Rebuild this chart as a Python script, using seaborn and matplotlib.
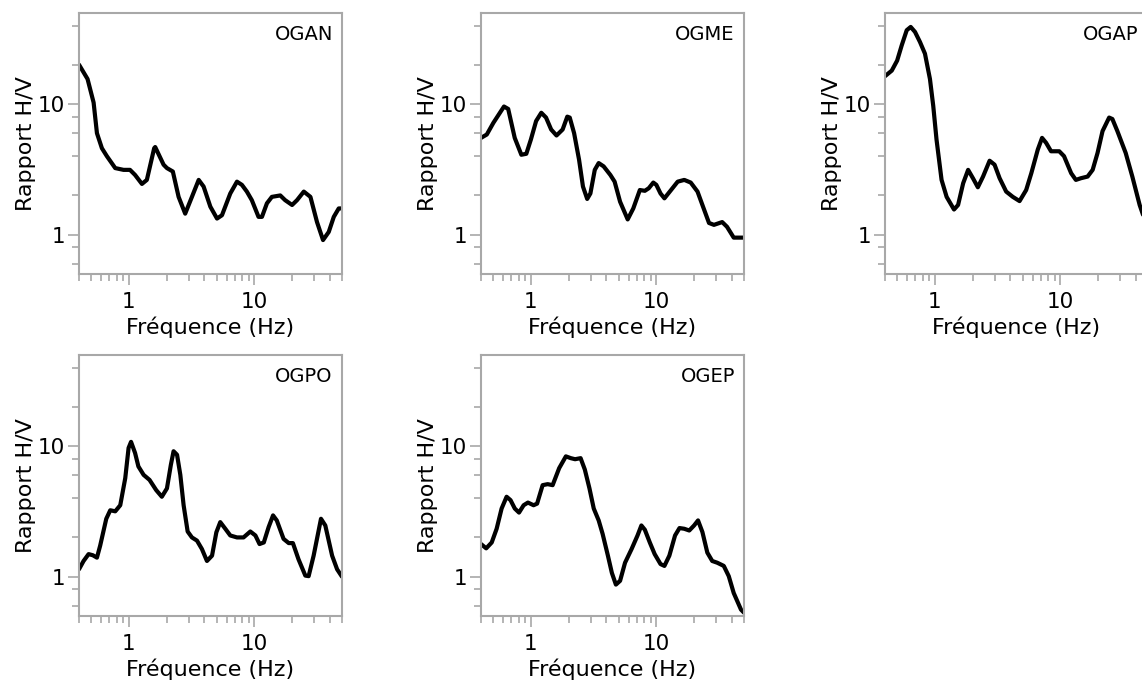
import numpy as np
import pandas as pd
import matplotlib
matplotlib.use("Agg")
import matplotlib.pyplot as plt
import matplotlib.ticker as mticker
import seaborn as sns

# ---------------- data ----------------
ogan_f = [0.40, 0.468, 0.523, 0.556, 0.609, 0.667, 0.778, 0.906, 1.02, 1.12, 1.27, 1.39, 1.59, 1.62,
          1.89, 2.01, 2.24, 2.49, 2.81, 3.18, 3.6, 3.94, 4.46, 5.04, 5.52, 6.43, 7.27, 7.96, 8.72,
          9.55, 10.8, 11.5, 12.6, 13.8, 16.1, 17.6, 20.0, 21.9, 24.8, 28.0, 31.6, 35.3, 39.2, 43.0,
          47.1, 50.0]
ogan_v = [20.1, 15.6, 10.3, 6.0, 4.6, 4.0, 3.24, 3.14, 3.14, 2.87, 2.45, 2.63, 4.6, 4.7,
          3.44, 3.24, 3.05, 1.95, 1.45, 1.95, 2.63, 2.34, 1.64, 1.33, 1.41, 2.07, 2.55, 2.41, 2.14,
          1.84, 1.37, 1.37, 1.74, 1.95, 2.0, 1.84, 1.69, 1.84, 2.14, 1.95, 1.25, 0.91, 1.05, 1.37,
          1.59, 1.59]

ogme_f = [0.40, 0.445, 0.502, 0.61, 0.659, 0.743, 0.839, 0.919, 1.0, 1.1, 1.21, 1.32, 1.45, 1.6,
          1.79, 1.95, 2.04, 2.21, 2.42, 2.6, 2.81, 2.98, 3.23, 3.47, 3.8, 4.3, 4.65, 5.14, 5.91,
          6.55, 7.39, 8.1, 8.7, 9.46, 10.0, 10.8, 11.6, 13.1, 14.8, 16.7, 18.8, 21.3, 23.3, 26.3,
          28.8, 33.5, 36.6, 41.4, 50.0]
ogme_v = [5.52, 5.86, 7.2, 9.6, 9.2, 5.52, 4.1, 4.17, 5.37, 7.43, 8.6, 7.9, 6.4, 5.76,
          6.4, 8.03, 7.9, 6.0, 3.76, 2.34, 1.88, 2.07, 3.14, 3.54, 3.34, 2.87, 2.55, 1.79, 1.31,
          1.59, 2.2, 2.17, 2.27, 2.51, 2.41, 2.07, 1.9, 2.2, 2.55, 2.63, 2.51, 2.14, 1.69, 1.23,
          1.19, 1.25, 1.15, 0.95, 0.95]

ogap_f = [0.40, 0.453, 0.5, 0.544, 0.596, 0.641, 0.694, 0.76, 0.833, 0.913, 0.97, 1.03, 1.13, 1.24,
          1.42, 1.53, 1.68, 1.84, 2.01, 2.2, 2.42, 2.73, 2.99, 3.28, 3.7, 4.18, 4.73, 5.34, 5.87,
          6.61, 7.15, 7.7, 8.43, 9.8, 10.7, 12.2, 13.3, 14.6, 16.5, 18.1, 19.8, 21.7, 24.5, 26.0,
          28.5, 33.2, 37.5, 42.9, 50.0]
ogap_v = [16.4, 18.1, 21.6, 28.3, 36.9, 39.1, 35.8, 30.0, 24.4, 15.6, 9.7, 5.36, 2.63, 1.95,
          1.56, 1.69, 2.48, 3.14, 2.71, 2.31, 2.79, 3.69, 3.44, 2.71, 2.14, 1.95, 1.81, 2.2, 2.96,
          4.49, 5.52, 5.06, 4.36, 4.36, 4.0, 2.96, 2.63, 2.71, 2.79, 3.14, 4.23, 6.22, 7.9, 7.7,
          6.22, 4.23, 2.79, 1.69, 1.1]

ogpo_f = [0.40, 0.435, 0.477, 0.516, 0.556, 0.59, 0.66, 0.71, 0.778, 0.853, 0.935, 0.994, 1.04, 1.12,
          1.19, 1.31, 1.46, 1.65, 1.83, 2.01, 2.16, 2.27, 2.42, 2.57, 2.73, 2.94, 3.18, 3.49, 3.82,
          4.19, 4.6, 4.98, 5.35, 5.87, 6.43, 7.27, 8.2, 9.29, 10.2, 11.0, 11.9, 13.0, 14.1, 15.1,
          17.1, 18.8, 20.3, 22.5, 25.5, 27.1, 29.7, 34.0, 36.8, 41.7, 45.7, 50.0]
ogpo_v = [1.14, 1.32, 1.49, 1.46, 1.4, 1.73, 2.78, 3.23, 3.17, 3.53, 5.69, 9.7, 10.8, 8.87,
          7.0, 6.03, 5.52, 4.61, 4.1, 4.75, 7.2, 9.15, 8.6, 6.03, 3.53, 2.22, 2.0, 1.89, 1.63,
          1.32, 1.45, 2.19, 2.62, 2.33, 2.07, 2.0, 2.0, 2.22, 2.07, 1.78, 1.83, 2.4, 2.95, 2.7,
          1.95, 1.81, 1.81, 1.36, 1.02, 1.01, 1.45, 2.78, 2.47, 1.45, 1.14, 1.0]

ogep_f = [0.40, 0.44, 0.487, 0.533, 0.584, 0.64, 0.688, 0.744, 0.804, 0.875, 0.947, 1.05, 1.12, 1.24,
          1.36, 1.49, 1.68, 1.9, 2.08, 2.25, 2.49, 2.69, 2.93, 3.17, 3.47, 3.73, 4.11, 4.42, 4.76,
          5.14, 5.63, 6.35, 7.08, 7.6, 8.1, 8.87, 9.7, 10.8, 11.6, 12.7, 14.1, 15.3, 16.7, 18.3,
          20.0, 21.5, 23.3, 25.5, 27.9, 30.6, 34.5, 37.8, 41.4, 47.3, 50.0]
ogep_v = [1.78, 1.65, 1.83, 2.33, 3.33, 4.1, 3.86, 3.33, 3.1, 3.53, 3.7, 3.53, 3.63, 5.03,
          5.12, 5.03, 6.79, 8.36, 8.1, 7.95, 8.1, 6.63, 4.75, 3.33, 2.7, 2.13, 1.45, 1.07, 0.87,
          0.93, 1.28, 1.63, 2.07, 2.47, 2.29, 1.83, 1.49, 1.25, 1.21, 1.45, 2.07, 2.36, 2.33, 2.26,
          2.47, 2.7, 2.2, 1.53, 1.32, 1.28, 1.21, 1.01, 0.75, 0.56, 0.53]

stations = ["OGAN", "OGME", "OGAP", "OGPO", "OGEP"]
freqs = [ogan_f, ogme_f, ogap_f, ogpo_f, ogep_f]
ratios = [ogan_v, ogme_v, ogap_v, ogpo_v, ogep_v]

x_major = [1, 10]
x_major_labels = ["1", "10"]
y_major = [1, 10]
y_major_labels = ["1", "10"]
y_minor = [0.6, 0.8, 2, 4, 6, 8, 20, 40]

# ---------------- style ----------------
sns.set_theme(style="white")
plt.rcParams["font.family"] = ["DejaVu Sans"]

W, H = 1142, 691
fig = plt.figure(figsize=(W / 100, H / 100), dpi=100)

lefts = [79, 481, 885, 79, 481]
tops = [13, 13, 13, 355, 355]
aw, ah = 263, 261
spine_col = "#a8a8a8"

for i, name in enumerate(stations):
    ax = fig.add_axes([lefts[i] / W, 1 - (tops[i] + ah) / H, aw / W, ah / H])
    df = pd.DataFrame({"f": freqs[i], "v": ratios[i]})
    sns.lineplot(data=df, x="f", y="v", ax=ax, color="black", linewidth=3.0,
                 estimator=None, sort=False, solid_joinstyle="round",
                 solid_capstyle="round")
    ax.set_xscale("log")
    ax.set_yscale("log")
    ax.set_xlim(0.4, 50)
    ax.set_ylim(0.5, 50)
    ax.xaxis.set_major_locator(mticker.FixedLocator(x_major))
    ax.xaxis.set_major_formatter(mticker.FixedFormatter(x_major_labels))
    ax.xaxis.set_minor_locator(mticker.LogLocator(base=10, subs=np.arange(2, 10)))
    ax.xaxis.set_minor_formatter(mticker.NullFormatter())
    ax.yaxis.set_major_locator(mticker.FixedLocator(y_major))
    ax.yaxis.set_major_formatter(mticker.FixedFormatter(y_major_labels))
    ax.yaxis.set_minor_locator(mticker.FixedLocator(y_minor))
    ax.yaxis.set_minor_formatter(mticker.NullFormatter())
    for s in ax.spines.values():
        s.set_color(spine_col)
        s.set_linewidth(1.5)
    ax.tick_params(axis="both", which="major", direction="out", length=8, width=1.2,
                   color=spine_col, labelsize=15.5, labelcolor="black", pad=2,
                   bottom=True, left=True)
    ax.tick_params(axis="both", which="minor", direction="out", length=5, width=1.2,
                   color=spine_col, bottom=True, left=True)
    ax.tick_params(axis="x", which="major", pad=5)
    ax.set_xlabel("Fréquence (Hz)", fontsize=16, labelpad=3, color="black")
    ax.set_ylabel("Rapport H/V", fontsize=16, labelpad=1, color="black")
    ax.text(0.965, 0.955, name, transform=ax.transAxes, ha="right", va="top",
            fontsize=14, color="black")
    ax.grid(False)

fig.savefig("out.png", dpi=100)
